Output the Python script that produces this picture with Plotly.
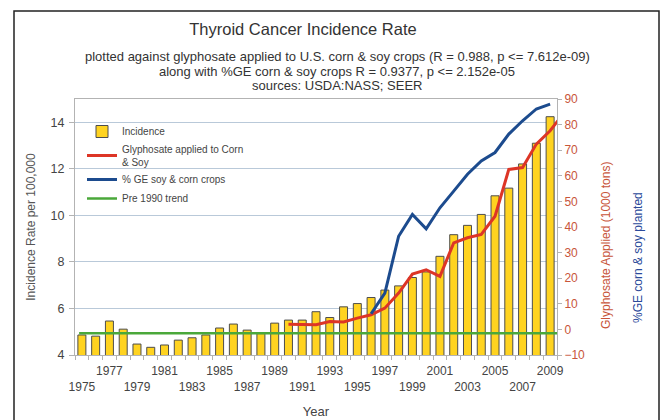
import plotly.graph_objects as go

years = list(range(1975, 2010))
incidence = [4.86, 4.81, 5.46, 5.11, 4.47, 4.33, 4.43, 4.64, 4.74, 4.86,
             5.16, 5.33, 5.07, 4.92, 5.37, 5.50, 5.50, 5.86, 5.61, 6.07,
             6.21, 6.47, 6.79, 6.97, 7.33, 7.57, 8.24, 9.17, 9.57, 10.04,
             10.84, 11.17, 12.21, 13.10, 14.24]

glyphosate_years = list(range(1990, 2011))
glyphosate = [2.0, 1.8, 1.8, 3.1, 2.9, 4.4, 5.7, 8.3, 14.2, 21.6,
              23.3, 20.7, 33.8, 35.8, 37.1, 44.2, 62.5, 63.2, 72.4, 77.6, 84.5]

ge_years = list(range(1996, 2010))
ge_pct = [6.1, 14.2, 36.4, 44.9, 39.3, 47.5, 54.0, 60.6, 65.8, 69.1,
          76.3, 81.5, 86.1, 88.0]

trend_years = [1974.8, 2010]
trend = [4.93, 4.93]

tick_years = list(range(1975, 2010, 2))
tick_labels = [str(y) if (y - 1977) % 4 == 0 else " <br>" + str(y) for y in tick_years]

subtitle_lines = [
    "plotted against glyphosate applied to U.S. corn &amp; soy crops (R = 0.988, p &lt;= 7.612e-09)",
    "along with %GE corn &amp; soy crops R = 0.9377, p &lt;= 2.152e-05",
    "sources: USDA:NASS; SEER",
]

FONT = "Liberation Sans"
ORANGE = "#c8553a"
BLUE_T = "#2b4a9a"

fig = go.Figure()
fig.add_trace(go.Bar(x=years, y=incidence, name="Incidence", width=0.58,
                     marker=dict(color="#ffd320", line=dict(color="#4d4d4d", width=1))))
fig.add_trace(go.Scatter(x=glyphosate_years, y=glyphosate, yaxis="y2", mode="lines",
                         name="Glyphosate applied to Corn<br>&amp; Soy",
                         line=dict(color="#dd3526", width=3)))
fig.add_trace(go.Scatter(x=ge_years, y=ge_pct, yaxis="y2", mode="lines",
                         name="% GE soy &amp; corn crops",
                         line=dict(color="#1c4b8e", width=3)))
fig.add_trace(go.Scatter(x=trend_years, y=trend, mode="lines", name="Pre 1990 trend",
                         line=dict(color="#4aa83a", width=2.5)))

L, R, T, B = 75, 103, 99, 65
PW, PH = 660 - L - R, 420 - T - B

def px_x(px):
    return (px - L) / PW

def px_y(py):
    return (420 - B - py) / PH

annotations = []
for line, ypx in zip(subtitle_lines, [56, 71, 85]):
    annotations.append(dict(text=line, xref="paper", yref="paper", x=px_x(337), y=px_y(ypx),
                            xanchor="center", yanchor="middle", showarrow=False,
                            font=dict(size=13, color="#333")))
annotations += [
    dict(text="Glyphosate Applied (1000 tons)", textangle=-90, xref="paper", yref="paper",
         x=px_x(606), y=px_y(246), xanchor="center", yanchor="middle",
         showarrow=False, font=dict(size=12, color=ORANGE)),
    dict(text="%GE corn &amp; soy planted", textangle=-90, xref="paper", yref="paper",
         x=px_x(638), y=px_y(258), xanchor="center", yanchor="middle",
         showarrow=False, font=dict(size=12, color=BLUE_T)),
]

fig.update_layout(
    width=660, height=420,
    margin=dict(l=L, r=R, t=T, b=B, autoexpand=False),
    paper_bgcolor="white", plot_bgcolor="white",
    font=dict(family=FONT, color="#444", size=12),
    showlegend=True,
    legend=dict(x=px_x(82), y=px_y(117), xanchor="left", yanchor="top",
                bgcolor="rgba(0,0,0,0)", font=dict(size=10, color="#444"),
                itemwidth=30, tracegroupgap=0, traceorder="normal"),
    bargap=0.4,
    xaxis=dict(range=[1974.5, 2009.5], tickvals=tick_years, ticktext=tick_labels,
               tickangle=0, ticks="", showgrid=False, showline=True, automargin=False,
               linecolor="#b3b3b3", mirror=True, zeroline=False, ticklabelstandoff=5,
               tickfont=dict(size=12, color="#444"),
               minor=dict(tick0=1974.5, dtick=1, ticks="outside", ticklen=4,
                          tickcolor="#b3b3b3", showgrid=False),
               title=dict(text="Year", font=dict(size=13, color="#444"), standoff=13)),
    yaxis=dict(range=[4, 15], tickvals=[4, 6, 8, 10, 12, 14], showgrid=True,
               gridcolor="#b9c9d9", gridwidth=1, showline=True, linecolor="#b3b3b3",
               mirror=True, ticks="outside", ticklen=5, tickcolor="#b3b3b3",
               ticklabelstandoff=2,
               zeroline=False, tickfont=dict(size=12.5, color="#444"), automargin=False,
               title=dict(text="Incidence Rate per 100,000",
                          font=dict(size=12, color="#555"), standoff=12)),
    yaxis2=dict(range=[-10, 90], dtick=10, overlaying="y", side="right",
                showgrid=False, zeroline=False, showline=True, linecolor="#b3b3b3",
                ticks="outside", ticklen=4, tickcolor="#b3b3b3", automargin=False,
                tickfont=dict(size=12, color=ORANGE)),
    title=dict(text="Thyroid Cancer Incidence Rate", x=303 / 660, xanchor="center",
               y=1 - 29 / 420, yanchor="middle",
               font=dict(size=16.5, color="#333")),
    annotations=annotations,
    shapes=[dict(type="rect", xref="paper", yref="paper",
                 x0=px_x(14), x1=px_x(659), y0=px_y(430), y1=px_y(11),
                 line=dict(color="#222", width=1.5), fillcolor="rgba(0,0,0,0)",
                 layer="above")],
)

fig.write_html("out.html", config={"displayModeBar": False},
               post_script="document.body.style.margin='0';")
